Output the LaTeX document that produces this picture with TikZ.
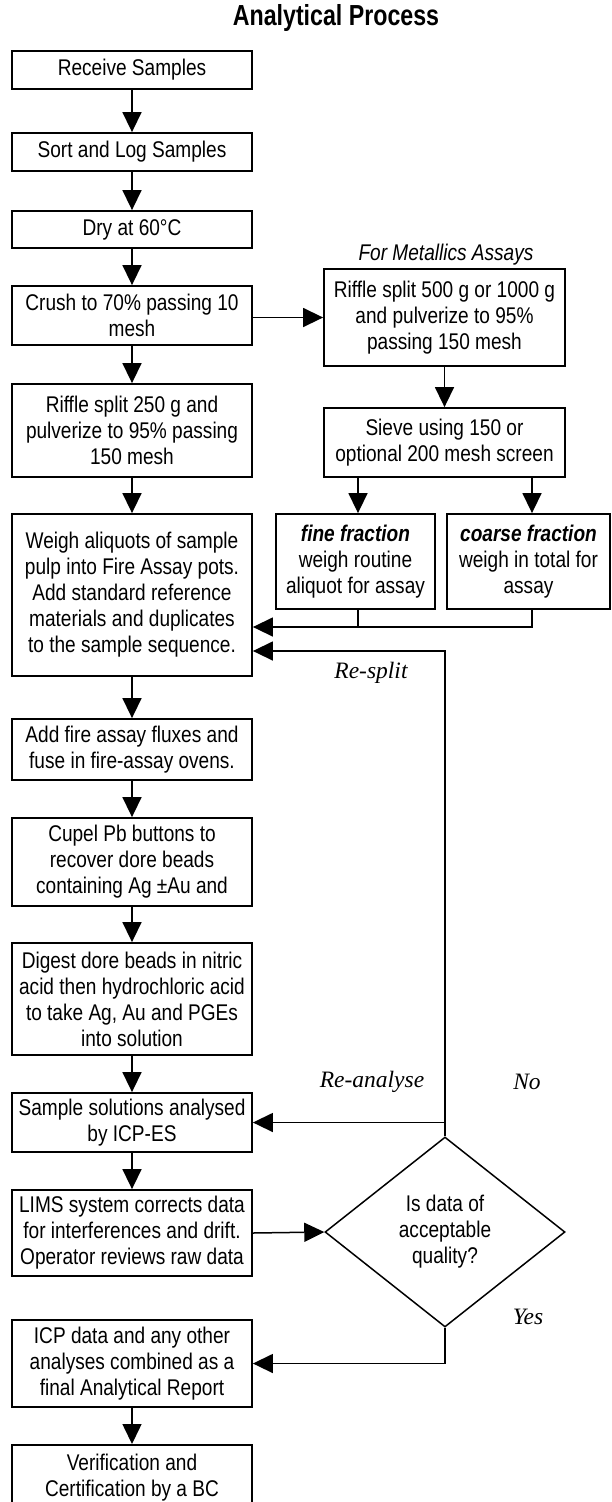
\documentclass[tikz,border=0pt]{standalone}
\usepackage{fontspec}
\setmainfont{Liberation Sans}[FakeStretch=0.84]
\newfontfamily\titlefont{Liberation Sans}[FakeStretch=0.8]
\newfontfamily\serifit{Liberation Serif}
\usetikzlibrary{arrows.meta,shapes.geometric}
\newcommand\bodyfs{\fontsize{22.7}{26}\selectfont}
\begin{document}
\begin{tikzpicture}[x=1pt,y=-1pt,
  box/.style={draw,line width=1.8pt,minimum width=240pt,align=center,inner sep=0pt,font=\bodyfs},
  ln/.style={line width=1.5pt},
  arr/.style={line width=1.5pt,-{Triangle[length=20pt,width=19pt]}},
  lab/.style={font=\serifit\itshape\fontsize{23.5}{26}\selectfont,inner sep=0pt},
  dec/.style={draw,shape=diamond,line width=1.5pt,minimum width=240pt,minimum height=190pt,aspect=1.263,inner sep=0pt,align=center,font=\bodyfs}
]
\useasboundingbox (0,0) rectangle (611,1502);
\node[font=\titlefont\bfseries\fontsize{29}{32}\selectfont,inner sep=0pt] (title) at (336,18) {Analytical Process};

% left column
\node[box,minimum height=38pt] (recv) at (132,70) {Receive Samples};
\node[box,minimum height=38pt] (sort) at (132,152) {Sort and Log Samples};
\node[box,minimum height=37pt] (dry) at (132,229.5) {Dry at 60°C};
\node[box,minimum height=59pt] (crush) at (132,315.5) {Crush to 70\% passing 10\\mesh};
\node[box,minimum height=93pt] (r250) at (132,430.5) {Riffle split 250 g and\\pulverize to 95\% passing\\150 mesh};
\node[box,minimum height=162pt] (weigh) at (132,595) {Weigh aliquots of sample\\pulp into Fire Assay pots.\\Add standard reference\\materials and duplicates\\to the sample sequence.};
\node[box,minimum height=61pt] (fire) at (132,749.5) {Add fire assay fluxes and\\fuse in fire-assay ovens.};
\node[box,minimum height=88pt] (cupel) at (132,862) {Cupel Pb buttons to\\recover dore beads\\containing Ag ±Au and};
\node[box,minimum height=112pt] (digest) at (132,999) {Digest dore beads in nitric\\acid then hydrochloric acid\\to take Ag, Au and PGEs\\into solution};
\node[box,minimum height=59pt] (sample) at (132,1122.5) {Sample solutions analysed\\by ICP-ES};
\node[box,minimum height=86pt] (lims) at (132,1233) {LIMS system corrects data\\for interferences and drift.\\Operator reviews raw data};
\node[box,minimum height=87pt] (icp) at (132,1363.5) {ICP data and any other\\analyses combined as a\\final Analytical Report};
\node[box,minimum height=120pt,anchor=north] (verif) at (132,1444) {};
\node[font=\bodyfs,align=center,inner sep=0pt,anchor=north] (veriftext) at (132,1453.5) {Verification and\\Certification by a BC};

% right column
\node[font=\bodyfs\itshape,inner sep=0pt] (meta) at (446,255) {For Metallics Assays};
\node[box,minimum width=241pt,minimum height=97pt] (r500) at (444.5,317.5) {Riffle split 500 g or 1000 g\\and pulverize to 95\%\\passing 150 mesh};
\node[box,minimum width=241pt,minimum height=69pt] (sieve) at (444.5,442.5) {Sieve using 150 or\\optional 200 mesh screen};
\node[box,minimum width=159pt,minimum height=95pt] (fine) at (355.5,561.5) {\textbf{\textit{fine fraction}}\\weigh routine\\aliquot for assay};
\node[box,minimum width=163pt,minimum height=95pt] (coarse) at (528.5,561.5) {\textbf{\textit{coarse fraction}}\\weigh in total for\\assay};
\node[dec] (dec) at (445,1232) {Is data of\\acceptable\\quality?};

\coordinate (fx) at (358,627);
\coordinate (cx) at (532,627);
\coordinate (rs) at (445,651);

% left column arrows
\foreach \a/\b in {recv/sort,sort/dry,dry/crush,crush/r250,r250/weigh,weigh/fire,fire/cupel,cupel/digest,digest/sample,sample/lims,icp/verif}
  \draw[arr] (\a.south) -- (\b.north);

% metallics branch
\draw[arr] (crush.east |- r500.west) -- (r500.west);
\draw[arr] (r500.south) -- (sieve.north);
\draw[arr] (sieve.south -| fx) -- (fine.north -| fx);
\draw[arr] (sieve.south -| cx) -- (coarse.north -| cx);
\draw[ln] (fine.south -| fx) -- (fx);
\draw[arr] (coarse.south -| cx) -- (cx) -- (weigh.east |- cx);

% decision loops
\draw[arr] (dec.north) -- (rs) -- (weigh.east |- rs);
\draw[arr] (dec.north |- sample.east) -- (sample.east);
\draw[arr] (lims.east) -- (dec.west);
\draw[arr] (dec.south) |- (icp.east);

\node[lab] (lresplit) at (371,673) {Re-split};
\node[lab] (lreanalyse) at (372,1082) {Re-analyse};
\node[lab] (lno) at (527,1082) {No};
\node[lab] (lyes) at (528,1317) {Yes};
\end{tikzpicture}
\end{document}
